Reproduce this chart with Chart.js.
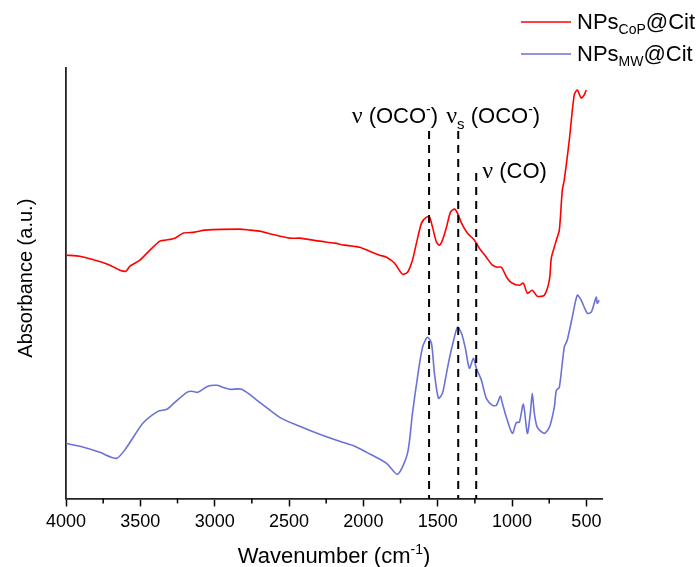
<!DOCTYPE html>
<html>
<head>
<meta charset="utf-8">
<script src="https://cdn.jsdelivr.net/npm/chart.js@4"></script>
<style>
  html, body { margin: 0; padding: 0; background: #fff; }
  #box { width: 700px; height: 567px; }
</style>
</head>
<body>
<div id="box"><canvas id="grafico"></canvas></div>
<script>
// NPs CoP @ Cit (red)
const redWave = [4000,3906,3805,3738,3704,3637,3597,3570,3503,3436,3369,3335,3268,3214,3134,3066,2831,2764,2697,2617,2496,2428,2294,2193,2126,2026,1958,1891,1844,1790,1737,1703,1670,1643,1609,1576,1555,1535,1508,1488,1468,1441,1414,1387,1367,1340,1300,1253,1220,1173,1132,1099,1072,1032,998,951,924,897,864,830,783,749,736,716,702,682,662,649,615,582,561,535,515,501];
const redAbs  = [243,242,238,235,233,228,227,232,238,248,257,258,260,265,266,268,269,268,267,264,260,260,257,255,253,251,247,243,241,235,224,226,238,255,275,281,281,271,256,253,258,271,286,289,285,275,265,258,250,241,233,231,231,220,215,213,215,205,208,202,203,218,240,251,258,268,308,318,358,403,408,400,403,408];

// NPs MW @ Cit (blue)
const blueWave = [4000,3906,3772,3660,3592,3483,3382,3322,3268,3187,3154,3113,3046,2986,2946,2899,2818,2697,2563,2428,2294,2180,2073,1978,1844,1770,1703,1670,1636,1602,1569,1542,1522,1495,1468,1441,1421,1401,1367,1340,1314,1287,1260,1240,1206,1173,1132,1105,1079,1065,1038,998,971,951,924,897,877,864,850,830,783,749,716,702,682,649,629,595,561,535,494,467,434,427,414];
const blueAbs  = [55,52,46,40,51,75,87,89,96,106,107,106,112,113,111,109,109,96,81,72,64,58,53,46,35,24,45,85,121,151,161,155,125,100,105,125,140,153,171,165,150,130,140,130,118,100,93,93,102,95,81,65,76,76,94,65,85,105,85,71,65,71,91,108,111,151,158,181,203,198,185,186,201,195,198];

const majorTicks = [4000,3500,3000,2500,2000,1500,1000,500];
const minorTicks = [3750,3250,2750,2250,1750,1250,750];

// band assignments (dashed lines)
const bandWave = [1558, 1362, 1241];
const bandTop  = [367, 367, 325];

const fonte = 'Arial, "Liberation Sans", sans-serif';

function pares(xs, ys) {
    return xs.map((x, i) => ({ x: x, y: ys[i] }));
}

// small helper: draws runs of [text, size, dy, family]
function texto_rico(ctx, x, y, partes) {
    let cx = x;
    partes.forEach(p => {
        ctx.font = p[1] + 'px ' + (p[3] || fonte);
        ctx.fillText(p[0], cx, y + (p[2] || 0));
        cx += ctx.measureText(p[0]).width;
    });
    return cx;
}

function largura_rica(ctx, partes) {
    let w = 0;
    partes.forEach(p => {
        ctx.font = p[1] + 'px ' + (p[3] || fonte);
        w += ctx.measureText(p[0]).width;
    });
    return w;
}

const extras = {
    id: 'extras',
    afterDraw(chart) {
        const ctx = chart.ctx;
        const xs = chart.scales.x;
        const ys = chart.scales.y;
        const area = chart.chartArea;
        ctx.save();

        // minor ticks
        ctx.strokeStyle = '#000';
        ctx.lineWidth = 1.5;
        minorTicks.forEach(v => {
            const px = xs.getPixelForValue(v);
            ctx.beginPath();
            ctx.moveTo(px, area.bottom);
            ctx.lineTo(px, area.bottom + 5);
            ctx.stroke();
        });

        // dashed band lines
        ctx.setLineDash([8, 6]);
        ctx.lineWidth = 2;
        bandWave.forEach((w, i) => {
            const px = xs.getPixelForValue(w);
            ctx.beginPath();
            ctx.moveTo(px, ys.getPixelForValue(bandTop[i]));
            ctx.lineTo(px, area.bottom);
            ctx.stroke();
        });
        ctx.setLineDash([]);

        ctx.fillStyle = '#000';
        ctx.textBaseline = 'alphabetic';
        ctx.textAlign = 'left';
        const nu = '"Liberation Serif", "Times New Roman", serif';

        const lab1 = [['\u03BD', 24, 0, nu], [' (OCO', 22], ['-', 14, -9], [')', 22]];
        const lab2 = [['\u03BD', 24, 0, nu], ['s', 15, 6], [' (OCO', 22], ['-', 14, -9], [')', 22]];
        const lab3 = [['\u03BD', 24, 0, nu], [' (CO)', 22]];

        const p1 = xs.getPixelForValue(bandWave[0]);
        const p2 = xs.getPixelForValue(bandWave[1]);
        const p3 = xs.getPixelForValue(bandWave[2]);
        const t1 = ys.getPixelForValue(bandTop[0]);
        const t3 = ys.getPixelForValue(bandTop[2]);
        texto_rico(ctx, p1 + 9 - largura_rica(ctx, lab1), t1 - 8, lab1);
        texto_rico(ctx, p2 - 12, t1 - 8, lab2);
        texto_rico(ctx, p3 + 6, t3 + 5, lab3);

        // legend
        const leg = [
            { cor: '#FF0000', sub: 'CoP', y: 22 },
            { cor: '#6B72D6', sub: 'MW', y: 54 }
        ];
        leg.forEach(l => {
            ctx.strokeStyle = l.cor;
            ctx.lineWidth = 1.5;
            ctx.beginPath();
            ctx.moveTo(521, l.y);
            ctx.lineTo(571, l.y);
            ctx.stroke();
            texto_rico(ctx, 577, l.y + 7, [['NPs', 22], [l.sub, 14, 5], ['@Cit', 22]]);
        });

        // x title
        const tx = [['Wavenumber (cm', 22], ['-1', 14, -9], [')', 22]];
        const cx = (area.left + area.right) / 2;
        texto_rico(ctx, cx - largura_rica(ctx, tx) / 2, 563, tx);

        // y title
        ctx.translate(32, (area.top + area.bottom) / 2 - 5);
        ctx.rotate(-Math.PI / 2);
        ctx.textAlign = 'center';
        ctx.font = '20px ' + fonte;
        ctx.fillText('Absorbance (a.u.)', 0, 0);

        ctx.restore();
    }
};

const grafico = document.getElementById('grafico');

const chart = new Chart(grafico, {
    type: 'scatter',
    data: {
        datasets: [
            {
                label: 'NPsCoP@Cit',
                data: pares(redWave, redAbs),
                showLine: true,
                borderColor: '#FF0000',
                borderWidth: 1.6,
                pointRadius: 0,
                tension: 0.25
            },
            {
                label: 'NPsMW@Cit',
                data: pares(blueWave, blueAbs),
                showLine: true,
                borderColor: '#6B72D6',
                borderWidth: 1.6,
                pointRadius: 0,
                tension: 0.25
            }
        ]
    },
    options: {
        responsive: true,
        maintainAspectRatio: false,
        animation: false,
        layout: { padding: { left: 66, right: 98, top: 68, bottom: 29 } },
        plugins: {
            legend: { display: false },
            tooltip: { enabled: false }
        },
        scales: {
            x: {
                type: 'linear',
                reverse: true,
                min: 395,
                max: 4000,
                afterBuildTicks: s => { s.ticks = majorTicks.map(v => ({ value: v })); },
                ticks: {
                    color: '#000',
                    padding: 5,
                    maxRotation: 0,
                    autoSkip: false,
                    font: { family: fonte, size: 18 },
                    callback: v => String(v)
                },
                grid: {
                    display: true,
                    drawOnChartArea: false,
                    drawTicks: true,
                    tickLength: 8,
                    tickColor: '#000',
                    tickWidth: 1.5
                },
                border: { display: true, color: '#222', width: 1.8 }
            },
            y: {
                min: 0,
                max: 430,
                ticks: { display: false },
                grid: { display: false, drawTicks: false },
                border: { display: true, color: '#222', width: 1.8 }
            }
        }
    },
    plugins: [extras]
});
</script>
</body>
</html>
